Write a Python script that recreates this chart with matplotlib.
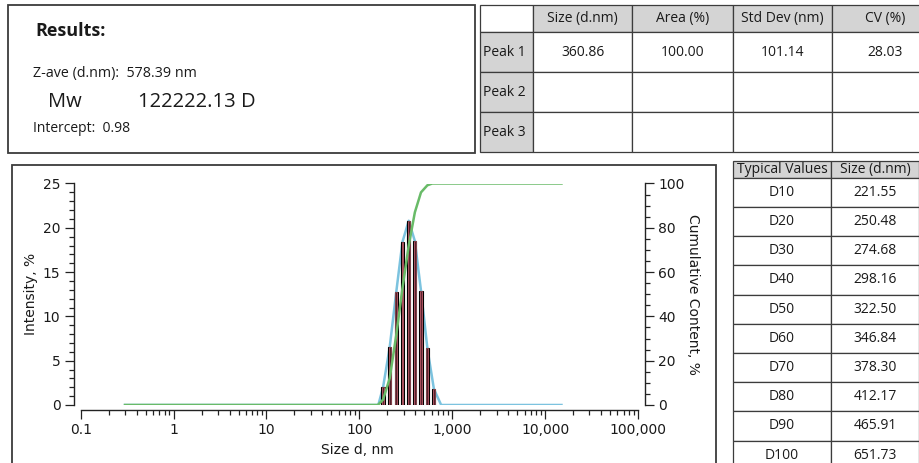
import numpy as np
import matplotlib
matplotlib.use('Agg')
import matplotlib.pyplot as plt
from matplotlib.patches import Rectangle
from matplotlib.ticker import MultipleLocator, FixedLocator, FixedFormatter, LogLocator, NullFormatter

# --- summary values ---
z_ave = '578.39 nm'
mw = '122222.13 D'
intercept = '0.98'

peak_cols = ['Size (d.nm)', 'Area (%)', 'Std Dev (nm)', 'CV (%)']
peak_rows = ['Peak 1', 'Peak 2', 'Peak 3']
peak1_vals = ['360.86', '100.00', '101.14', '28.03']

typ_labels = ['D10', 'D20', 'D30', 'D40', 'D50', 'D60', 'D70', 'D80', 'D90', 'D100']
typ_sizes = ['221.55', '250.48', '274.68', '298.16', '322.50', '346.84', '378.30', '412.17', '465.91', '651.73']

# --- size distribution ---
bar_sizes = [180, 212, 250, 291, 340, 396, 461, 540, 635]
bar_intensity = [2.0, 6.5, 12.8, 18.4, 20.8, 18.5, 12.9, 6.4, 1.8]

line_sizes = [0.3, 160, 180, 212, 250, 291, 340, 396, 461, 540, 635, 760, 15000]
line_intensity = [0, 0, 2.0, 6.5, 12.8, 18.4, 20.8, 18.5, 12.9, 6.4, 1.8, 0, 0]

cum_sizes = [0.3, 158, 180, 212, 250, 291, 340, 396, 461, 540, 610, 660, 15000]
cum_values = [0, 0, 2.4, 12, 31.7, 52.7, 72, 87, 96, 99.2, 100, 100, 100]

x_ticks = [0.1, 1, 10, 100, 1000, 10000, 100000]
x_tick_labels = ['0.1', '1', '10', '100', '1,000', '10,000', '100,000']

W, H = 919, 463
plt.rcParams['font.family'] = ['Open Sans', 'DejaVu Sans']
fig = plt.figure(figsize=(W / 100, H / 100), dpi=100)
fig.patch.set_facecolor('white')

ink = '#1a1a1a'
grey = '#d4d4d4'
edge = '#3c3c3c'
tsize = 10


def box(x0, y0, x1, y1, fc='white', ec=edge, lw=1.0):
    fig.patches.append(Rectangle((x0 / W, 1 - y1 / H), (x1 - x0) / W, (y1 - y0) / H,
                                 transform=fig.transFigure, facecolor=fc, edgecolor=ec,
                                 lw=lw, zorder=-5))


def txt(x, y, s, size=tsize, ha='center', **kw):
    fig.text(x / W, 1 - y / H, s, ha=ha, va='center', fontsize=size, color=ink, **kw)


# Results box
box(8, 5, 475, 153, lw=1.3)
txt(35, 31, 'Results:', size=13, ha='left', fontweight='bold')
txt(33, 73, 'Z-ave (d.nm):  ' + z_ave, size=10.3, ha='left')
txt(48, 102, 'Mw', size=14.5, ha='left')
txt(138, 102, mw, size=14.5, ha='left')
txt(33, 129, 'Intercept:  ' + intercept, size=10, ha='left')

# peak table
col_x = [480, 533, 632, 733, 832, 940]
row_y = [5, 32, 72, 112, 152]
for i in range(len(row_y) - 1):
    for j in range(len(col_x) - 1):
        shaded = (i == 0 and j > 0) or (j == 0 and i > 0)
        box(col_x[j], row_y[i], col_x[j + 1], row_y[i + 1], fc=grey if shaded else 'white', lw=0.9)
for j, c in enumerate(peak_cols):
    txt((col_x[j + 1] + col_x[j + 2]) / 2 if j < 3 else 885, 18.5, c)
for i, r in enumerate(peak_rows):
    txt(483, (row_y[i + 1] + row_y[i + 2]) / 2, r, ha='left')
for j, v in enumerate(peak1_vals):
    txt((col_x[j + 1] + col_x[j + 2]) / 2 if j < 3 else 885, 52, v)

# chart frame
box(12, 165, 716, 480, lw=1.3)

# typical values table
tx = [733, 831, 919]
ty = [161, 177.7] + [177.7 + 29.2 * (k + 1) for k in range(len(typ_labels))]
box(tx[0], ty[0], tx[1], ty[1], fc=grey, lw=0.9)
box(tx[1], ty[0], tx[2] - 0.5, ty[1], fc=grey, lw=0.9)
txt((tx[0] + tx[1]) / 2, 169.5, 'Typical Values')
txt((tx[1] + tx[2]) / 2, 169.5, 'Size (d.nm)')
for k, (lab, val) in enumerate(zip(typ_labels, typ_sizes)):
    box(tx[0], ty[k + 1], tx[1], ty[k + 2], lw=0.9)
    box(tx[1], ty[k + 1], tx[2] - 0.5, ty[k + 2], lw=0.9)
    txt((tx[0] + tx[1]) / 2, (ty[k + 1] + ty[k + 2]) / 2, lab)
    txt((tx[1] + tx[2]) / 2, (ty[k + 1] + ty[k + 2]) / 2, val)

# --- the chart ---
ax_l, ax_r, ax_t, ax_b = 80.7, 638, 183.5, 405
ax = fig.add_axes([ax_l / W, 1 - ax_b / H, (ax_r - ax_l) / W, (ax_b - ax_t) / H])
ax.patch.set_alpha(0)
ax.set_xscale('log')
ax.set_xlim(0.1, 100000)
ax.set_ylim(0, 25)

bs = np.array(bar_sizes, dtype=float)
ax.plot(line_sizes, line_intensity, color='#7cc3df', lw=1.8, zorder=2, solid_joinstyle='round')
ax.bar(bs, bar_intensity, width=bs * 0.08, color='#5c2430', edgecolor='black', lw=0.8, zorder=3)
ax.bar(bs, bar_intensity, width=bs * 0.045, color='none', edgecolor='#e87585', lw=0.4, zorder=4)

ax2 = ax.twinx()
ax2.set_ylim(0, 100)
ax2.plot(cum_sizes, cum_values, color='#69bb68', lw=1.8, zorder=5, solid_joinstyle='round')

num_font = ['Liberation Sans Narrow', 'DejaVu Sans']
for a in (ax, ax2):
    a.spines['top'].set_visible(False)
ax.spines['right'].set_visible(False)
ax2.spines['left'].set_visible(False)
ax2.spines['bottom'].set_visible(False)
ax.spines['left'].set_position(('outward', 5))
ax.spines['bottom'].set_position(('outward', 3.6))
ax2.spines['right'].set_position(('outward', 5))
for sp in (ax.spines['left'], ax.spines['bottom'], ax2.spines['right']):
    sp.set_color('#222222')
    sp.set_linewidth(1.0)

ax.yaxis.set_major_locator(MultipleLocator(5))
ax.yaxis.set_minor_locator(MultipleLocator(1))
ax2.yaxis.set_major_locator(MultipleLocator(20))
ax2.yaxis.set_minor_locator(MultipleLocator(5))
ax.xaxis.set_major_locator(FixedLocator(x_ticks))
ax.xaxis.set_major_formatter(FixedFormatter(x_tick_labels))
ax.xaxis.set_minor_locator(LogLocator(base=10, subs=np.arange(2, 10)))
ax.xaxis.set_minor_formatter(NullFormatter())

for a in (ax, ax2):
    a.tick_params(which='major', length=6.5, width=0.9, color='#222222', labelsize=10, labelcolor=ink, pad=3)
    a.tick_params(which='minor', length=3.3, width=0.9, color='#222222')
    for lab in a.get_xticklabels() + a.get_yticklabels():
        lab.set_family(num_font)
ax2.tick_params(which='both', left=False, labelleft=False)

ax.set_xlabel('Size d, nm', fontsize=10, family=num_font, color=ink)
ax.xaxis.set_label_coords(0.496, -0.172)
ax.set_ylabel('Intensity, %', fontsize=10, family=num_font, color=ink)
ax.yaxis.set_label_coords(-0.076, 0.5)
ax2.set_ylabel('Cumulative Content, %', fontsize=10, family=num_font, color=ink, rotation=-90)
ax2.yaxis.set_label_coords(1.112, 0.5)

fig.savefig('out.png', dpi=100)
